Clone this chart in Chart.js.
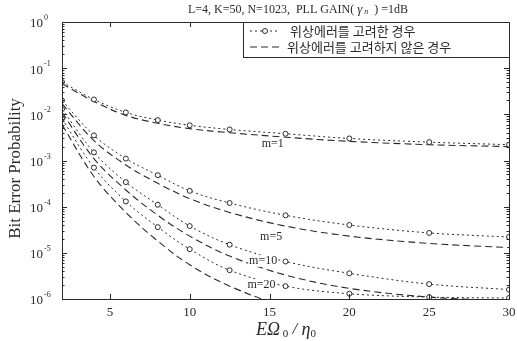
<!DOCTYPE html>
<html>
<head>
<meta charset="utf-8">
<script src="https://cdn.jsdelivr.net/npm/chart.js@4.4.0/dist/chart.umd.min.js"></script>
<style>
  html, body { margin: 0; padding: 0; background: #fff; }
</style>
</head>
<body>
<canvas id="ber" width="517" height="341"></canvas>
<script>
// E*Omega0/eta0 sample points (dB)
const snr = [2, 4, 6, 8, 10, 12.5, 16, 20, 25, 30];

// BER with phase error considered (markers)
const m1Pe  = [0.05, 0.021, 0.011, 0.0075, 0.0058, 0.0047, 0.0038, 0.003, 0.0025, 0.0022];
const m5Pe  = [0.02, 0.0035, 0.0011, 4.8e-4, 2.2e-4, 1.2e-4, 6.5e-5, 4e-5, 2.7e-5, 2.2e-5];
const m10Pe = [0.013, 0.0015, 3.4e-4, 1.1e-4, 3.8e-5, 1.5e-5, 6.5e-6, 3.6e-6, 2.1e-6, 1.6e-6];
const m20Pe = [0.008, 7e-4, 1.3e-4, 3.6e-5, 1.2e-5, 4.2e-6, 1.9e-6, 1.3e-6, 1.1e-6, 1.05e-6];

// BER with phase error ignored
const m1  = [0.046, 0.019, 0.0095, 0.0064, 0.0049, 0.004, 0.0032, 0.0026, 0.0022, 0.002];
const m5  = [0.017, 0.0027, 8e-4, 3.2e-4, 1.5e-4, 7.5e-5, 3.8e-5, 2.3e-5, 1.6e-5, 1.3e-5];
const m10 = [0.011, 0.0011, 2.3e-4, 6.5e-5, 2.3e-5, 8.5e-6, 3.3e-6, 1.7e-6, 1.1e-6, 9e-7];
const m20 = [0.006, 4.5e-4, 7.5e-5, 1.8e-5, 5.5e-6, 1.9e-6, 7e-7, 4e-7, 3e-7, 2.5e-7];

const xTicks = [5, 10, 15, 20, 25, 30];
const yExps = [0, -1, -2, -3, -4, -5, -6];

const curveLabels = ['m=1', 'm=5', 'm=10', 'm=20'];
const curveLabelAt = [[15.2, 2.3e-3], [15.1, 2.2e-5], [14.6, 6.7e-6], [14.5, 2.0e-6]];

const legendText = ['위상에러를 고려한 경우', '위상에러를 고려하지 않은 경우'];

const ink = '#2a2a2a';
const serif = "'Liberation Serif', 'DejaVu Serif', serif";

function pts(ys) {
    return snr.map((x, i) => ({ x, y: ys[i] }));
}

function peSet(ys) {
    return {
        data: pts(ys), borderColor: ink, borderWidth: 1, borderDash: [2, 3],
        pointRadius: 2.5, pointStyle: 'circle', pointBackgroundColor: '#fff',
        pointBorderColor: ink, pointBorderWidth: 1, tension: 0.35, fill: false
    };
}

function plainSet(ys) {
    return {
        data: pts(ys), borderColor: ink, borderWidth: 1.1, borderDash: [7, 4],
        pointRadius: 0, tension: 0.35, fill: false
    };
}

const overlay = {
    id: 'overlay',
    afterDraw(chart) {
        const { ctx, chartArea: a, scales } = chart;
        const xs = scales.x, ys = scales.y;
        ctx.save();
        ctx.fillStyle = ink;
        ctx.strokeStyle = ink;

        // frame
        ctx.lineWidth = 1;
        ctx.setLineDash([]);
        ctx.strokeRect(a.left + 0.5, a.top + 0.5, a.right - a.left, a.bottom - a.top);

        // inward ticks
        ctx.beginPath();
        yExps.forEach(e => {
            for (let k = 1; k <= 9; k++) {
                const v = k * Math.pow(10, e);
                if (v > 1 || v < 1e-6) continue;
                const py = Math.round(ys.getPixelForValue(v)) + 0.5;
                const len = k === 1 ? 5 : 2.5;
                ctx.moveTo(a.left, py); ctx.lineTo(a.left + len, py);
                ctx.moveTo(a.right, py); ctx.lineTo(a.right - len, py);
            }
        });
        xTicks.forEach(t => {
            const px = Math.round(xs.getPixelForValue(t)) + 0.5;
            ctx.moveTo(px, a.bottom); ctx.lineTo(px, a.bottom - 5);
            ctx.moveTo(px, a.top); ctx.lineTo(px, a.top + 5);
        });
        ctx.stroke();

        // y tick labels 10^e
        ctx.textBaseline = 'middle';
        yExps.forEach(e => {
            const py = ys.getPixelForValue(Math.pow(10, e));
            ctx.font = '13px ' + serif;
            ctx.textAlign = 'right';
            ctx.fillText('10', 43, py + 2);
            ctx.font = '8px ' + serif;
            ctx.textAlign = 'left';
            ctx.fillText(e === 0 ? '0' : '-' + (-e), 44, py - 4);
        });

        // x tick labels
        ctx.font = '13px ' + serif;
        ctx.textAlign = 'center';
        xTicks.forEach(t => {
            ctx.fillText(String(t), xs.getPixelForValue(t), a.bottom + 14);
        });

        // y axis title
        ctx.save();
        ctx.translate(16, (a.top + a.bottom) / 2 + 8);
        ctx.rotate(-Math.PI / 2);
        ctx.font = '17px ' + serif;
        ctx.textAlign = 'center';
        ctx.fillText('Bit Error Probability', 0, 0);
        ctx.restore();

        // x axis title: E Omega_0 / eta_0
        ctx.textAlign = 'left';
        const xParts = [
            ['EΩ', 'italic 18px ' + serif, 0],
            [' 0', '11px ' + serif, 4],
            [' / ', 'italic 17px ' + serif, 0],
            ['η', 'italic 18px ' + serif, 0],
            ['0', '11px ' + serif, 4]
        ];
        let w = 0;
        xParts.forEach(p => { ctx.font = p[1]; w += ctx.measureText(p[0]).width; });
        let cx = 286 - w / 2;
        xParts.forEach(p => {
            ctx.font = p[1];
            ctx.fillText(p[0], cx, 330 + p[2]);
            cx += ctx.measureText(p[0]).width;
        });

        // title
        const tParts = [
            ['L=4, K=50, N=1023,  PLL GAIN( ', '12px ' + serif, 0],
            ['γ', 'italic 13px ' + serif, 0],
            [' n', 'italic 8px ' + serif, 2],
            ['  ) =1dB', '12px ' + serif, 0]
        ];
        w = 0;
        tParts.forEach(p => { ctx.font = p[1]; w += ctx.measureText(p[0]).width; });
        cx = 298 - w / 2;
        tParts.forEach(p => {
            ctx.font = p[1];
            ctx.fillText(p[0], cx, 10 + p[2]);
            cx += ctx.measureText(p[0]).width;
        });

        // curve labels
        ctx.font = '12px ' + serif;
        ctx.textAlign = 'center';
        curveLabels.forEach((t, i) => {
            const [lx, ly] = curveLabelAt[i];
            ctx.fillStyle = '#fff';
            const tw = ctx.measureText(t).width;
            const px = xs.getPixelForValue(lx), py = ys.getPixelForValue(ly);
            ctx.fillRect(px - tw / 2 - 1, py - 6, tw + 2, 12);
            ctx.fillStyle = ink;
            ctx.fillText(t, px, py);
        });

        // legend box
        const bx = 243, by = a.top, bw = a.right - bx, bh = 35;
        ctx.fillStyle = '#fff';
        ctx.fillRect(bx, by, bw, bh);
        ctx.strokeRect(bx + 0.5, by + 0.5, bw, bh);
        const sets = chart.data.datasets;
        [sets[0], sets[4]].forEach((ds, i) => {
            const ly = by + 9 + i * 16;
            ctx.strokeStyle = ds.borderColor;
            ctx.lineWidth = ds.borderWidth;
            ctx.setLineDash(ds.borderDash);
            ctx.beginPath();
            ctx.moveTo(250, ly); ctx.lineTo(280, ly);
            ctx.stroke();
            ctx.setLineDash([]);
            if (ds.pointRadius > 0) {
                ctx.beginPath();
                ctx.arc(265, ly, ds.pointRadius, 0, Math.PI * 2);
                ctx.fillStyle = '#fff';
                ctx.fill();
                ctx.stroke();
            }
            ctx.fillStyle = ink;
            ctx.font = "13px 'Noto Sans CJK KR', sans-serif";
            ctx.textAlign = 'left';
            ctx.fillText(legendText[i], i === 0 ? 290 : 287, ly);
        });

        ctx.restore();
    }
};

new Chart(document.getElementById('ber'), {
    type: 'line',
    data: {
        datasets: [
            peSet(m1Pe), peSet(m5Pe), peSet(m10Pe), peSet(m20Pe),
            plainSet(m1), plainSet(m5), plainSet(m10), plainSet(m20)
        ]
    },
    options: {
        responsive: false,
        animation: false,
        layout: { padding: { top: 22, right: 8, left: 0, bottom: 0 } },
        plugins: { legend: { display: false }, tooltip: { enabled: false } },
        scales: {
            x: {
                type: 'linear', min: 2, max: 30,
                afterBuildTicks: s => { s.ticks = xTicks.map(v => ({ value: v })); },
                afterFit: s => { s.height = 42; },
                grid: { display: false },
                border: { display: false },
                ticks: { display: false }
            },
            y: {
                type: 'logarithmic', min: 1e-6, max: 1,
                afterBuildTicks: s => { s.ticks = yExps.map(e => ({ value: Math.pow(10, e) })); },
                afterFit: s => { s.width = 62; },
                grid: { display: false },
                border: { display: false },
                ticks: { display: false }
            }
        }
    },
    plugins: [overlay]
});
</script>
</body>
</html>
